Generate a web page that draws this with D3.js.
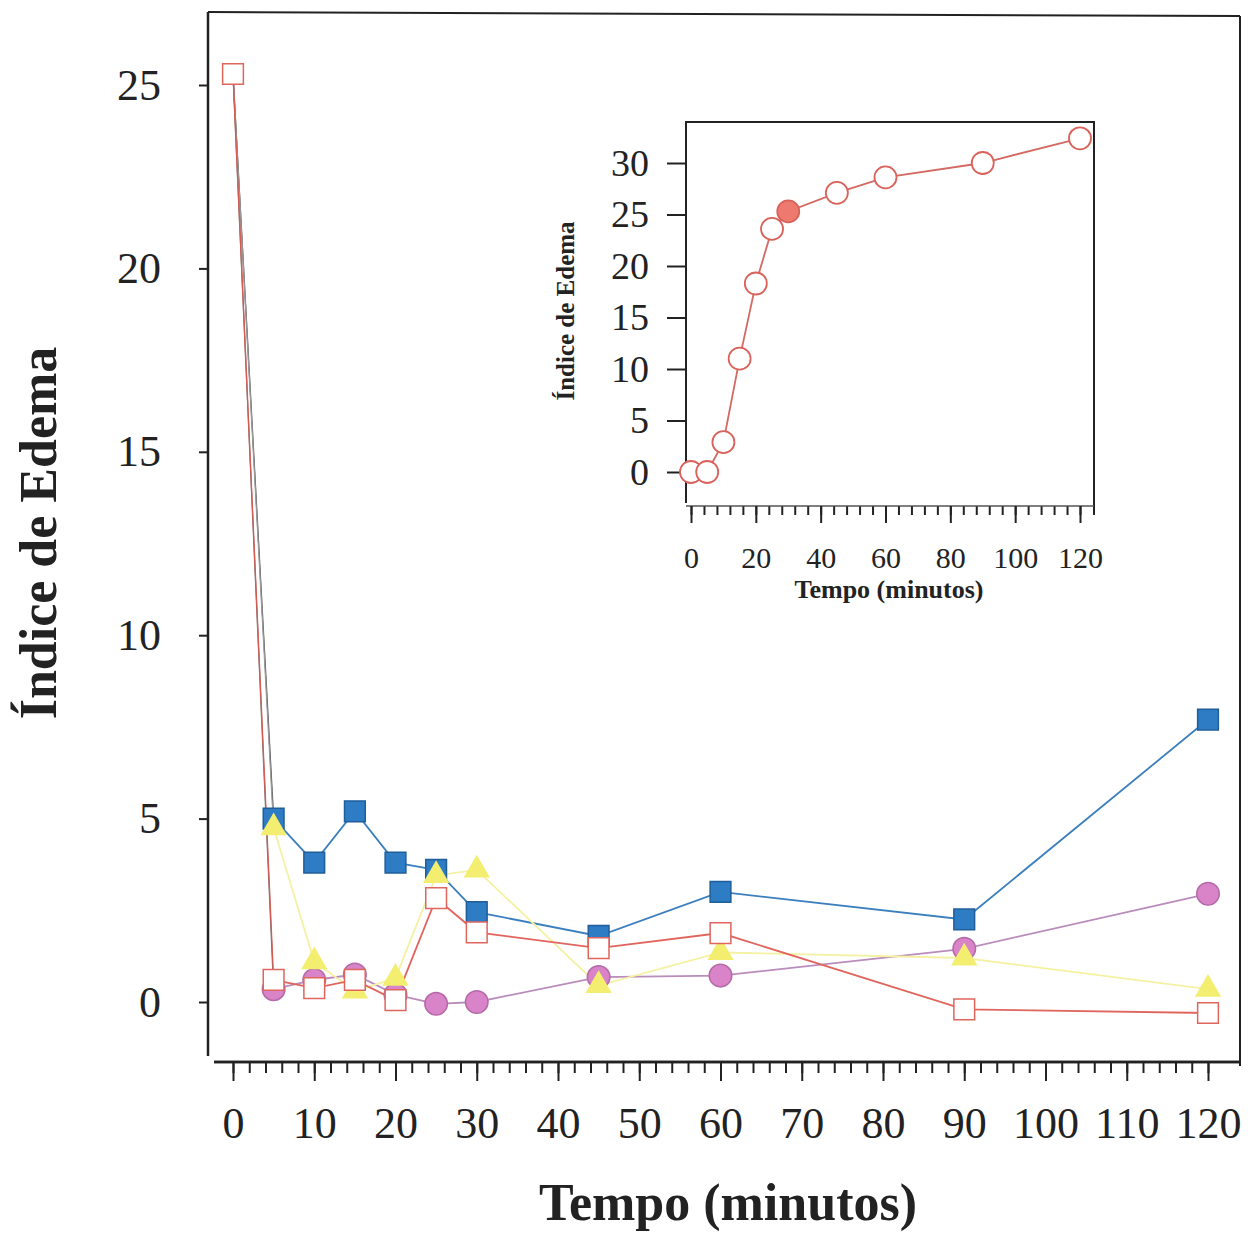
<!DOCTYPE html>
<html>
<head>
<meta charset="utf-8">
<script src="https://cdn.jsdelivr.net/npm/d3@7"></script>
<style>
  body { margin: 0; background: #fff; }
  svg { font-family: "Liberation Serif", "DejaVu Serif", serif; }
</style>
</head>
<body>
<div id="svg"></div>
<script>
// main chart data (minutes vs edema index)
const times = [0, 5, 10, 15, 20, 25, 30, 45, 60, 90, 120];
const blueVals = [25.3, 5.0, 3.8, 5.2, 3.8, 3.6, 2.45, 1.8, 3.0, 2.25, 7.7];
const pinkVals = [25.3, 0.35, 0.6, 0.75, 0.2, -0.05, 0.0, 0.68, 0.72, 1.45, 2.95];
const yellowVals = [25.3, 4.75, 1.1, 0.3, 0.65, 3.45, 3.6, 0.45, 1.35, 1.2, 0.35];
const openVals = [25.3, 0.6, 0.38, 0.6, 0.05, 2.83, 1.9, 1.47, 1.88, -0.2, -0.3];
const xTicks = [0, 10, 20, 30, 40, 50, 60, 70, 80, 90, 100, 110, 120];
const yTicks = [0, 5, 10, 15, 20, 25];

// inset data
const insetTimes = [0, 5, 10, 15, 20, 25, 30, 45, 60, 90, 120];
const insetVals = [0, 0, 2.9, 11, 18.3, 23.6, 25.3, 27.1, 28.6, 30, 32.4];
const insetHighlight = 30;
const insetXTicks = [0, 20, 40, 60, 80, 100, 120];
const insetYTicks = [0, 5, 10, 15, 20, 25, 30];

function makeGraph() {
  let w = 1248;
  let h = 1236;
  let svg = d3.select('#svg').append('svg').attr('width', w).attr('height', h);

  let xScale = d3.scaleLinear().domain([0, 120]).range([233, 1208]);
  let yScale = d3.scaleLinear().domain([0, 25]).range([1002, 85]);

  // frame
  svg.append('line').attr('x1', 208).attr('y1', 12).attr('x2', 1240).attr('y2', 16)
    .attr('stroke', '#222').attr('stroke-width', 2);
  svg.append('line').attr('x1', 1240).attr('y1', 16).attr('x2', 1240).attr('y2', 1066)
    .attr('stroke', '#222').attr('stroke-width', 2);

  // x axis: minor ticks every 2, majors every 10
  let minor = d3.range(0, 121, 2);
  let xMinor = svg.append('g').attr('transform', 'translate(0,1062)')
    .call(d3.axisBottom(xScale).tickValues(minor).tickSize(11).tickFormat(''));
  let xAxisGroup = svg.append('g').attr('transform', 'translate(0,1062)')
    .call(d3.axisBottom(xScale).tickValues(xTicks).tickSize(19).tickFormat(d3.format('d')));
  [xMinor, xAxisGroup].forEach(g => {
    g.select('.domain').attr('d', 'M214,0H1240').attr('stroke', '#222').attr('stroke-width', 2.5);
    g.selectAll('.tick line').attr('stroke', '#222').attr('stroke-width', 2);
  });
  xAxisGroup.selectAll('text')
    .attr('y', 76).attr('dy', 0)
    .attr('font-size', 44).attr('fill', '#222')
    .attr('font-family', '"Liberation Serif", serif');

  let yAxisGroup = svg.append('g').attr('transform', 'translate(208,0)')
    .call(d3.axisLeft(yScale).tickValues(yTicks).tickSize(9).tickPadding(38));
  yAxisGroup.select('.domain').attr('d', 'M0,12V1056').attr('stroke', '#222').attr('stroke-width', 2.5);
  yAxisGroup.selectAll('.tick line').attr('stroke', '#222').attr('stroke-width', 2);
  yAxisGroup.selectAll('text')
    .attr('font-size', 44).attr('fill', '#222')
    .attr('font-family', '"Liberation Serif", serif');

  // series (the t=0 point is shared; only the open square shows there)
  let series = [
    { vals: blueVals, line: '#3b7fbe', first: '#4a4a4a', shape: 'square', fill: '#2d7cc4', stroke: '#1f5e9a', showFirst: false },
    { vals: pinkVals, line: '#b98cbc', first: '#777', shape: 'circle', fill: '#d983c9', stroke: '#b56aa9', showFirst: false },
    { vals: yellowVals, line: '#f4f1a2', first: '#999', shape: 'triangle', fill: '#f3ee6f', stroke: 'none', showFirst: false },
    { vals: openVals, line: '#e0655d', first: '#d85a52', shape: 'square', fill: '#ffffff', stroke: '#e0655d', showFirst: true }
  ];

  let lineGen = d3.line()
    .x(d => xScale(d.t))
    .y(d => yScale(d.v));

  series.forEach(s => {
    let pts = s.vals.map((v, i) => ({ t: times[i], v: v }));
    svg.append('path').datum(pts.slice(0, 2))
      .attr('d', lineGen)
      .attr('fill', 'none')
      .attr('stroke', s.first)
      .attr('stroke-width', 1.3);
    svg.append('path').datum(pts.slice(1))
      .attr('d', lineGen)
      .attr('fill', 'none')
      .attr('stroke', s.line)
      .attr('stroke-width', 1.8);
  });

  let symbols = { square: d3.symbolSquare, circle: d3.symbolCircle, triangle: d3.symbolTriangle };
  let sizes = { square: 430, circle: 400, triangle: 300 };
  series.forEach(s => {
    let pts = s.vals.map((v, i) => ({ t: times[i], v: v }));
    if (!s.showFirst) pts = pts.slice(1);
    svg.append('g').selectAll('path')
      .data(pts)
      .enter()
      .append('path')
      .attr('transform', d => `translate(${xScale(d.t)},${yScale(d.v)})`)
      .attr('d', d3.symbol().type(symbols[s.shape]).size(sizes[s.shape]))
      .attr('fill', s.fill)
      .attr('stroke', s.stroke)
      .attr('stroke-width', 1.5);
  });

  // axis titles
  svg.append('text')
    .attr('transform', 'rotate(-90)')
    .attr('x', -533)
    .attr('y', 56)
    .attr('text-anchor', 'middle')
    .attr('font-size', 52)
    .attr('font-weight', 'bold')
    .attr('fill', '#222')
    .text('Índice de Edema');

  svg.append('text')
    .attr('x', 728)
    .attr('y', 1220)
    .attr('text-anchor', 'middle')
    .attr('font-size', 52)
    .attr('font-weight', 'bold')
    .attr('fill', '#222')
    .text('Tempo (minutos)');

  // ---- inset ----
  let ix = d3.scaleLinear().domain([0, 120]).range([691, 1080]);
  let iy = d3.scaleLinear().domain([0, 30]).range([472, 163]);

  svg.append('path').attr('d', 'M686,503V122H1094V515')
    .attr('fill', 'none').attr('stroke', '#222').attr('stroke-width', 2);

  let iMinor = svg.append('g').attr('transform', 'translate(0,506)')
    .call(d3.axisBottom(ix).tickValues(d3.range(0, 121, 4)).tickSize(9).tickFormat(''));
  let iMajor = svg.append('g').attr('transform', 'translate(0,506)')
    .call(d3.axisBottom(ix).tickValues(insetXTicks).tickSize(17).tickFormat(d3.format('d')));
  [iMinor, iMajor].forEach(g => {
    g.select('.domain').attr('d', 'M686,0H1094').attr('stroke', '#555').attr('stroke-width', 1);
    g.selectAll('.tick line').attr('stroke', '#222').attr('stroke-width', 2);
  });
  iMajor.selectAll('text')
    .attr('y', 62).attr('dy', 0)
    .attr('font-size', 30).attr('fill', '#222')
    .attr('font-family', '"Liberation Serif", serif');

  let iyAxis = svg.append('g').attr('transform', 'translate(686,0)')
    .call(d3.axisLeft(iy).tickValues(insetYTicks).tickSize(19).tickPadding(18));
  iyAxis.select('.domain').remove();
  iyAxis.selectAll('.tick line').attr('stroke', '#222').attr('stroke-width', 2);
  iyAxis.selectAll('text')
    .attr('font-size', 38).attr('fill', '#222')
    .attr('font-family', '"Liberation Serif", serif');

  let iLine = d3.line()
    .x((d, i) => ix(insetTimes[i]))
    .y(d => iy(d));
  svg.append('path').datum(insetVals)
    .attr('d', iLine)
    .attr('fill', 'none')
    .attr('stroke', '#d26a62')
    .attr('stroke-width', 1.8);

  svg.append('g').selectAll('circle')
    .data(insetVals)
    .enter()
    .append('circle')
    .attr('cx', (d, i) => ix(insetTimes[i]))
    .attr('cy', d => iy(d))
    .attr('r', 11)
    .attr('fill', (d, i) => insetTimes[i] === insetHighlight ? '#ee7a6f' : '#fff')
    .attr('stroke', '#d9625a')
    .attr('stroke-width', 1.8);

  svg.append('text')
    .attr('transform', 'rotate(-90)')
    .attr('x', -311)
    .attr('y', 574)
    .attr('text-anchor', 'middle')
    .attr('font-size', 25)
    .attr('font-weight', 'bold')
    .attr('fill', '#222')
    .text('Índice de Edema');

  svg.append('text')
    .attr('x', 889)
    .attr('y', 598)
    .attr('text-anchor', 'middle')
    .attr('font-size', 26)
    .attr('font-weight', 'bold')
    .attr('fill', '#222')
    .text('Tempo (minutos)');
}

window.onload = function () {
  makeGraph();
};
</script>
</body>
</html>
